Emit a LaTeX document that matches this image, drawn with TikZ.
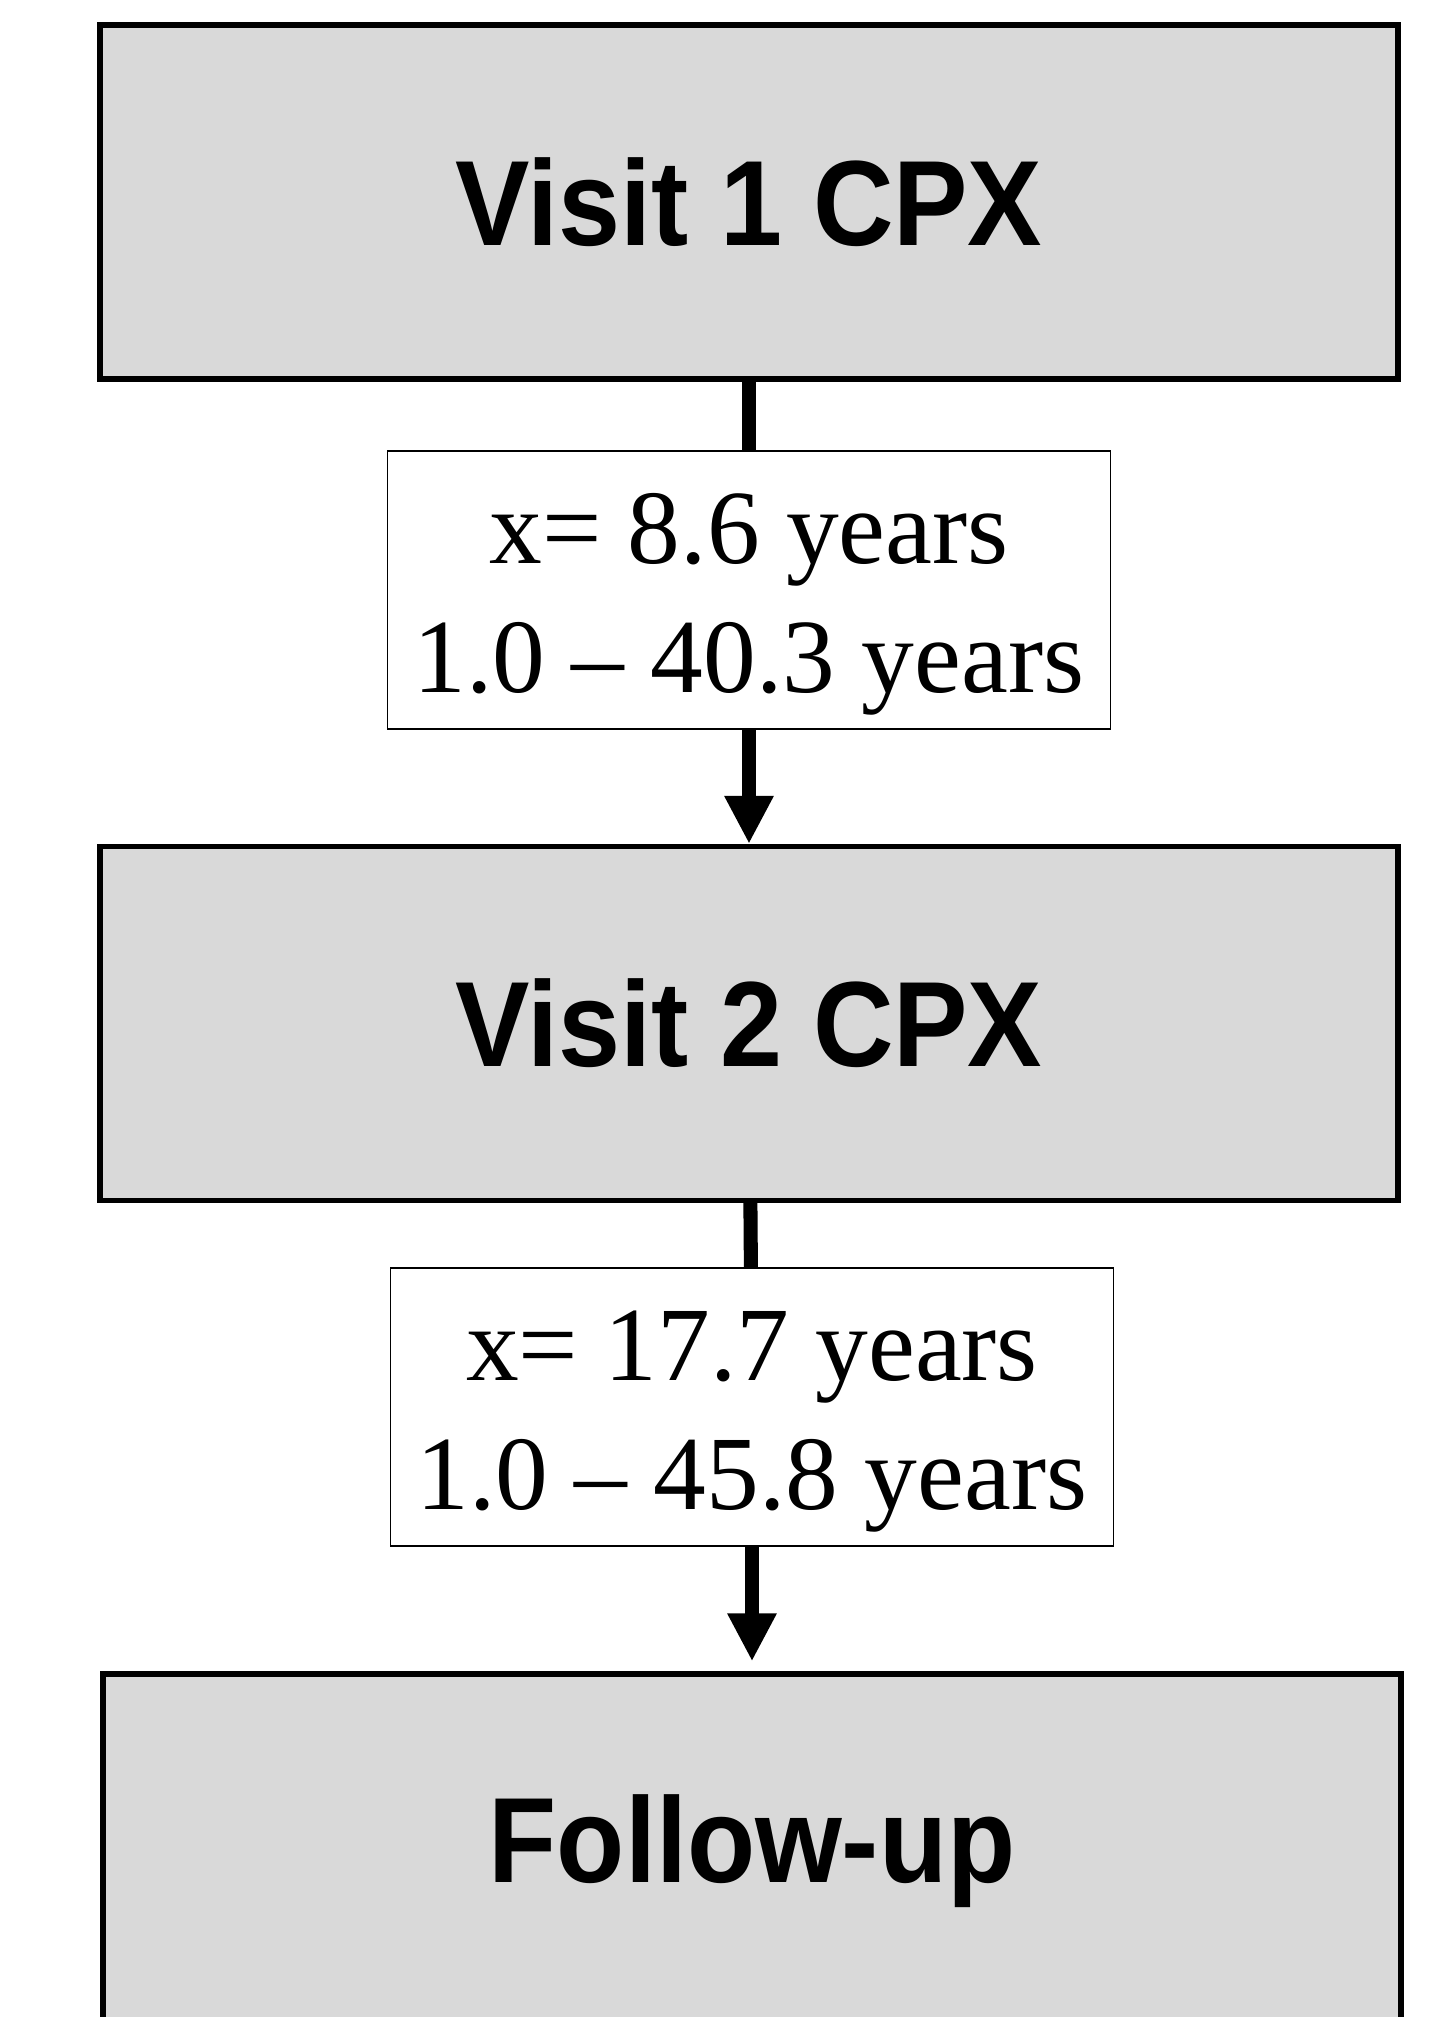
\documentclass[tikz,border=0pt]{standalone}
\usepackage{fontspec}
\setmainfont{Liberation Serif}
\newfontfamily\cajafont[FakeStretch=0.92]{Liberation Sans}
\usetikzlibrary{arrows.meta, positioning}
\definecolor{grisclaro}{RGB}{217,217,217}

\begin{document}
\begin{tikzpicture}[
    >={Triangle[length=0.48cm, width=0.46cm]}
]
    \tikzset{
        etapa/.style={rectangle, draw, fill=grisclaro, line width=1.5pt, minimum width=12.98cm, minimum height=3.54cm, font=\cajafont\bfseries\fontsize{34.5}{40}\selectfont},
        intervalo/.style={rectangle, draw, fill=white, line width=0.5pt, minimum width=7.23cm, minimum height=2.78cm, align=center, inner sep=0pt, font=\fontsize{30}{36.6}\selectfont},
        flecha/.style={line width=4pt}
    }
    \useasboundingbox (0,0) rectangle (14.44,-20.17);

    % Nodos
    \node[etapa]     (v1)  at (7.49,-2.02)   {Visit 1 CPX};
    \node[intervalo] (t1)  at (7.49,-5.90)   {\rule{0pt}{28pt}x= 8.6 years\\1.0 -- 40.3 years};
    \node[etapa]     (v2)  at (7.49,-10.235) {Visit 2 CPX};
    \node[intervalo] (t2)  at (7.52,-14.07)  {\rule{0pt}{28pt}x= 17.7 years\\1.0 -- 45.8 years};
    \node[etapa]     (seg) at (7.52,-18.51)  {Follow-up};

    % Flechas
    \draw[flecha] (v1) -- (t1);
    \draw[flecha, ->] (t1) -- (v2);
    \draw[flecha] (v2) -- (t2);
    \draw[flecha, ->, shorten >=0.1cm] (t2) -- (seg);
\end{tikzpicture}
\end{document}
